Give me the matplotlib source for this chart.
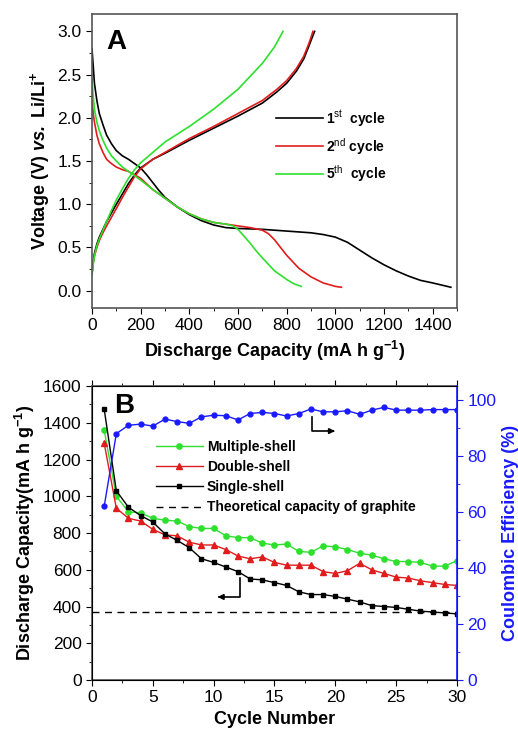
import numpy as np
import matplotlib
matplotlib.use('Agg')
import matplotlib.pyplot as plt
from matplotlib.ticker import MultipleLocator

plt.rcParams['font.family'] = ['Liberation Sans', 'DejaVu Sans']
plt.rcParams['font.size'] = 10.5
plt.rcParams['mathtext.fontset'] = 'custom'
plt.rcParams['mathtext.rm'] = 'Liberation Sans'
plt.rcParams['mathtext.it'] = 'Liberation Sans:italic'
plt.rcParams['mathtext.bf'] = 'Liberation Sans:bold'
plt.rcParams['mathtext.bfit'] = 'Liberation Sans:bold:italic'

# ---- Panel A: charge / discharge profiles ----
c1_dis_x = [0, 5, 10, 20, 30, 45, 60, 80, 100, 125, 150, 175, 200, 225, 250, 275, 300, 350, 400, 450, 500, 550, 600, 700, 800, 900, 950, 1000, 1050, 1100, 1150, 1200, 1250, 1300, 1350, 1400, 1475]
c1_dis_y = [2.8, 2.6, 2.4, 2.2, 2.05, 1.92, 1.8, 1.7, 1.62, 1.56, 1.52, 1.47, 1.42, 1.34, 1.25, 1.16, 1.08, 0.97, 0.88, 0.81, 0.76, 0.73, 0.72, 0.71, 0.69, 0.67, 0.65, 0.62, 0.56, 0.47, 0.38, 0.3, 0.23, 0.17, 0.12, 0.09, 0.04]
c1_chg_x = [0, 5, 10, 20, 30, 45, 60, 80, 100, 125, 150, 175, 200, 250, 300, 400, 500, 600, 700, 760, 800, 840, 870, 890, 905, 915]
c1_chg_y = [0.2, 0.33, 0.43, 0.54, 0.62, 0.71, 0.8, 0.9, 1.0, 1.12, 1.24, 1.34, 1.42, 1.52, 1.59, 1.74, 1.88, 2.02, 2.17, 2.3, 2.4, 2.54, 2.68, 2.82, 2.93, 3.0]

c2_dis_x = [0, 5, 10, 20, 30, 45, 60, 80, 100, 125, 150, 175, 200, 250, 300, 350, 400, 450, 500, 550, 600, 650, 700, 725, 750, 775, 800, 850, 900, 950, 1000, 1025]
c2_dis_y = [2.2, 2.05, 1.95, 1.8, 1.7, 1.6, 1.52, 1.47, 1.43, 1.4, 1.38, 1.34, 1.3, 1.17, 1.07, 0.97, 0.89, 0.83, 0.79, 0.77, 0.75, 0.73, 0.7, 0.66, 0.59, 0.5, 0.41, 0.26, 0.16, 0.09, 0.05, 0.04]
c2_chg_x = [0, 5, 10, 20, 30, 45, 60, 80, 100, 125, 150, 175, 200, 250, 300, 400, 500, 600, 700, 760, 800, 840, 870, 890, 900, 908]
c2_chg_y = [0.2, 0.32, 0.4, 0.5, 0.58, 0.67, 0.75, 0.85, 0.95, 1.08, 1.2, 1.32, 1.41, 1.52, 1.6, 1.76, 1.9, 2.05, 2.2, 2.33, 2.43, 2.57, 2.71, 2.85, 2.93, 3.0]

c5_dis_x = [0, 5, 10, 20, 30, 45, 60, 80, 100, 125, 150, 175, 200, 250, 300, 350, 400, 450, 500, 550, 580, 600, 625, 650, 675, 700, 750, 800, 830, 860]
c5_dis_y = [2.45, 2.25, 2.1, 1.95, 1.85, 1.74, 1.65, 1.56, 1.5, 1.43, 1.38, 1.33, 1.28, 1.17, 1.07, 0.97, 0.89, 0.83, 0.79, 0.77, 0.75, 0.71, 0.63, 0.55, 0.46, 0.38, 0.23, 0.13, 0.08, 0.05]
c5_chg_x = [0, 5, 10, 20, 30, 45, 60, 80, 100, 125, 150, 175, 200, 250, 300, 400, 500, 600, 650, 700, 750, 785]
c5_chg_y = [0.18, 0.3, 0.4, 0.52, 0.6, 0.7, 0.8, 0.93, 1.05, 1.18, 1.3, 1.4, 1.48, 1.6, 1.72, 1.9, 2.1, 2.33, 2.48, 2.63, 2.82, 3.0]

# ---- Panel B: cycling performance ----
cycles = np.arange(1, 31)
multi_shell = [1360, 1000, 915, 910, 880, 870, 865, 835, 825, 825, 785, 775, 775, 745, 735, 740, 700, 695, 730, 725, 710, 690, 680, 660, 645, 645, 640, 620, 620, 650]
double_shell = [1290, 935, 880, 865, 820, 790, 785, 750, 735, 735, 710, 675, 660, 670, 640, 625, 625, 625, 590, 580, 595, 635, 600, 580, 560, 555, 540, 530, 520, 515]
single_shell = [1475, 1030, 940, 895, 860, 795, 760, 720, 660, 640, 615, 590, 550, 545, 530, 515, 480, 465, 465, 455, 440, 425, 405, 400, 395, 385, 375, 370, 365, 360]
coulombic = [62, 88, 91, 91.4, 90.7, 93.2, 92.3, 91.7, 94, 94.6, 94.4, 92.9, 95.2, 95.6, 95.2, 94.3, 95.2, 96.8, 95.8, 95.8, 96.2, 94.9, 96.4, 97.4, 96.4, 96.4, 96.4, 96.6, 96.6, 96.6]
graphite_cap = 372

GREEN = '#2ee02e'
RED = '#e01c1c'
BLUE = '#1a1aff'
TICK_FS = 12.5
LABEL_FS = 13

fig = plt.figure(figsize=(5.18, 7.33), dpi=100)
axA = fig.add_axes([0.1776, 0.5798, 0.7046, 0.401])
axB = fig.add_axes([0.1776, 0.0723, 0.7046, 0.401])

lw = 1.2
axA.plot(c1_dis_x, c1_dis_y, color='black', lw=lw, label=r'1$^{\mathrm{st}}$  cycle')
axA.plot(c1_chg_x, c1_chg_y, color='black', lw=lw)
axA.plot(c2_dis_x, c2_dis_y, color=RED, lw=lw, label=r'2$^{\mathrm{nd}}$ cycle')
axA.plot(c2_chg_x, c2_chg_y, color=RED, lw=lw)
axA.plot(c5_dis_x, c5_dis_y, color=GREEN, lw=lw, label=r'5$^{\mathrm{th}}$  cycle')
axA.plot(c5_chg_x, c5_chg_y, color=GREEN, lw=lw)

axA.set_xlim(0, 1500)
axA.set_ylim(-0.2, 3.2)
axA.xaxis.set_major_locator(MultipleLocator(200))
axA.xaxis.set_minor_locator(MultipleLocator(100))
axA.yaxis.set_major_locator(MultipleLocator(0.5))
axA.yaxis.set_minor_locator(MultipleLocator(0.25))
axA.tick_params(which='both', direction='out', labelsize=TICK_FS)
axA.tick_params(which='major', length=4)
axA.tick_params(which='minor', length=2.5)
axA.set_xlabel(r'Discharge Capacity (mA h g$^{\mathbf{-1}}$)', fontsize=LABEL_FS, fontweight='bold')
axA.set_ylabel(r'Voltage (V) $\mathbfit{vs.}$ Li/Li$^{\mathbf{+}}$', fontsize=LABEL_FS, fontweight='bold')
axA.text(0.04, 0.95, 'A', transform=axA.transAxes, fontsize=20, fontweight='bold', va='top')
axA.legend(loc='center left', bbox_to_anchor=(0.47, 0.55), frameon=False,
           prop={'weight': 'bold', 'size': 10}, handlelength=3.4, handletextpad=0.2,
           labelspacing=0.5)
for s in axA.spines.values():
    s.set_color('#555555')
    s.set_linewidth(1.2)

# Panel B
axB.plot(cycles, multi_shell, color=GREEN, marker='o', ms=3.8, lw=1.0, label='Multiple-shell')
axB.plot(cycles, double_shell, color=RED, marker='^', ms=4, lw=1.0, label='Double-shell')
axB.plot(cycles, single_shell, color='black', marker='s', ms=3, lw=1.0, label='Single-shell')
axB.axhline(graphite_cap, color='black', ls=(0, (5, 4)), lw=1.0, label='Theoretical capacity of graphite')

axB.set_xlim(0, 30)
axB.set_ylim(0, 1600)
axB.xaxis.set_major_locator(MultipleLocator(5))
axB.xaxis.set_minor_locator(MultipleLocator(2.5))
axB.yaxis.set_major_locator(MultipleLocator(200))
axB.yaxis.set_minor_locator(MultipleLocator(100))
axB.tick_params(which='both', direction='out', labelsize=TICK_FS)
axB.tick_params(which='major', length=4)
axB.tick_params(which='minor', length=2.5)
axB.tick_params(axis='x', which='both', top=True)
axB.set_xlabel('Cycle Number', fontsize=LABEL_FS, fontweight='bold')
axB.set_ylabel(r'Discharge Capacity(mA h g$^{\mathbf{-1}}$)', fontsize=LABEL_FS, fontweight='bold')
axB.text(0.06, 0.975, 'B', transform=axB.transAxes, fontsize=20, fontweight='bold', va='top')

axR = axB.twinx()
axR.plot(cycles, coulombic, color=BLUE, marker='o', ms=3.5, lw=1.0)
axR.set_ylim(0, 105)
axR.yaxis.set_major_locator(MultipleLocator(20))
axR.yaxis.set_minor_locator(MultipleLocator(10))
axR.tick_params(which='both', direction='out', labelsize=TICK_FS, colors=BLUE)
axR.tick_params(which='major', length=4)
axR.tick_params(which='minor', length=2.5)
axR.spines['right'].set_color(BLUE)
axR.spines['right'].set_linewidth(1.2)
axR.set_ylabel('Coulombic Efficiency (%)', fontsize=LABEL_FS, fontweight='bold', color=BLUE)
for k in ['left', 'top', 'bottom']:
    axB.spines[k].set_linewidth(1.2)
    axB.spines[k].set_color('#555555')

axB.legend(loc='upper left', bbox_to_anchor=(0.14, 0.86), frameon=False,
           prop={'weight': 'bold', 'size': 10}, handlelength=3.4, handletextpad=0.3,
           labelspacing=0.45)

# pointer arrows showing which axis each curve belongs to
axB.plot([18.1, 18.1, 19.6], [1431, 1355, 1355], color='black', lw=1.2)
axB.annotate('', xy=(20.2, 1355), xytext=(19.5, 1355),
             arrowprops=dict(arrowstyle='-|>', color='black', lw=1.2, mutation_scale=8))
axB.plot([12.2, 12.2, 10.7], [555, 452, 452], color='black', lw=1.2)
axB.annotate('', xy=(10.1, 452), xytext=(10.8, 452),
             arrowprops=dict(arrowstyle='-|>', color='black', lw=1.2, mutation_scale=8))

fig.savefig('out.png', dpi=100)
